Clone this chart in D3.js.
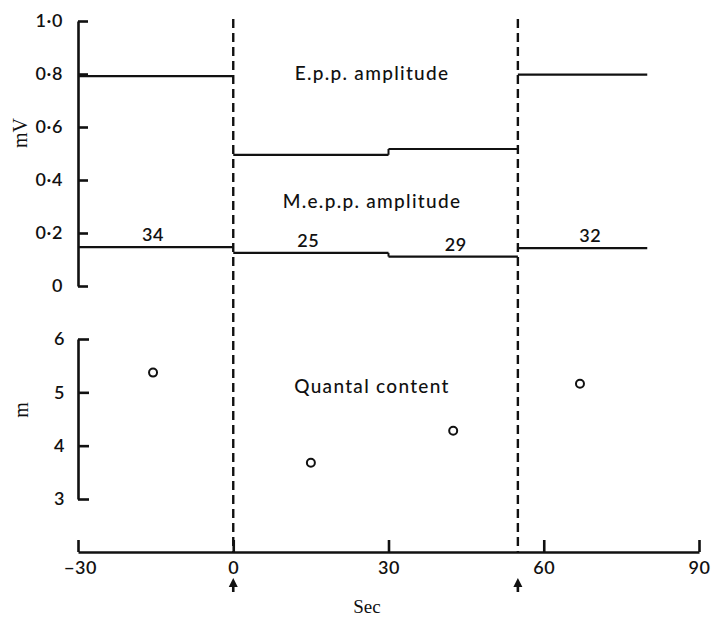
<!DOCTYPE html>
<html>
<head>
<meta charset="utf-8">
<script src="https://cdn.jsdelivr.net/npm/d3@7/dist/d3.min.js"></script>
<style>
  body { margin: 0; background: #fff; }
  svg { display: block; }
  .tick text { font-family: Lato, "Open Sans", sans-serif; font-size: 18px; font-weight: 600; letter-spacing: 0.6px; fill: #111; }
</style>
</head>
<body>
<svg id="chart" width="711" height="618"></svg>
<script>
// Time periods (s) over which each mean amplitude applies
const segStart = [-30, 0, 30, 55];
const segEnd   = [0, 30, 55, 80];
// Mean e.p.p. amplitude (mV) per period
const eppAmp   = [0.792, 0.495, 0.517, 0.798];
// Mean m.e.p.p. amplitude (mV) per period
const meppAmp  = [0.147, 0.125, 0.111, 0.143];
// Number of m.e.p.p.s averaged in each period
const meppN    = [34, 25, 29, 32];
// Quantal content estimates
const mTime    = [-15.5, 15, 42.5, 67];
const mValue   = [5.37, 3.68, 4.28, 5.16];
// Stimulus change markers (s)
const markers  = [0, 55];
// Tick values
const xTicks   = [-30, 0, 30, 60, 90];
const mvTicks  = [0, 0.2, 0.4, 0.6, 0.8, 1.0];
const mTicks   = [3, 4, 5, 6];

const svg = d3.select("#chart");
const ink = "#111";
const sans = "Lato, 'Open Sans', sans-serif";

const x = d3.scaleLinear().domain([-30, 90]).range([78, 699]);
const yMV = d3.scaleLinear().domain([0, 1.0]).range([286, 21]);
const yM = d3.scaleLinear().domain([3, 6]).range([499, 339]);

const fmtMV = d => d === 0 ? "0" : d3.format(".1f")(d).replace(".", "\u00b7");
const fmtX = d => d < 0 ? "\u2212" + Math.abs(d) : String(d);

function styleAxis(g) {
  g.select(".domain").attr("stroke", ink).attr("stroke-width", 2.6);
  g.selectAll(".tick line").attr("stroke", ink).attr("stroke-width", 2.6);
}

// Upper axis (mV)
svg.append("g")
  .attr("transform", `translate(${x(-30)},0)`)
  .call(d3.axisLeft(yMV).tickValues(mvTicks).tickFormat(fmtMV)
        .tickSizeInner(-10).tickSizeOuter(0).tickPadding(15))
  .call(styleAxis);

// Lower axis (quantal content m)
svg.append("g")
  .attr("transform", `translate(${x(-30)},0)`)
  .call(d3.axisLeft(yM).tickValues(mTicks).tickFormat(d3.format("d"))
        .tickSizeInner(-11).tickSizeOuter(0).tickPadding(13))
  .call(styleAxis);

// Time axis
const xAxisY = 552;
svg.append("g")
  .attr("transform", `translate(0,${xAxisY})`)
  .call(d3.axisBottom(x).tickValues(xTicks).tickFormat(fmtX)
        .tickSizeInner(-12).tickSizeOuter(0).tickPadding(9))
  .call(styleAxis)
  .call(g => g.selectAll(".tick text").attr("dx", d => d < 0 ? "2" : "0"));

// Dashed stimulus markers
svg.append("g").selectAll("line").data(markers).join("line")
  .attr("x1", d => x(d)).attr("x2", d => x(d))
  .attr("y1", 19).attr("y2", xAxisY)
  .attr("stroke", ink).attr("stroke-width", 2.4)
  .attr("stroke-dasharray", "9,5");

// Arrows under the time axis
const arrows = svg.append("g");
markers.forEach(t => {
  const cx = x(t);
  arrows.append("line")
    .attr("x1", cx).attr("x2", cx).attr("y1", 592).attr("y2", 584)
    .attr("stroke", ink).attr("stroke-width", 2.6);
  arrows.append("path")
    .attr("d", `M${cx - 4.5},${587} L${cx},${578} L${cx + 4.5},${587} Z`)
    .attr("fill", ink);
});

// Horizontal mean-amplitude segments
function drawSegments(values) {
  const g = svg.append("g");
  values.forEach((v, i) => {
    g.append("line")
      .attr("x1", x(segStart[i])).attr("x2", x(segEnd[i]))
      .attr("y1", yMV(v)).attr("y2", yMV(v))
      .attr("stroke", ink).attr("stroke-width", 2.2);
  });
  // short step where consecutive periods meet between the markers
  g.append("line")
    .attr("x1", x(30)).attr("x2", x(30))
    .attr("y1", yMV(values[1])).attr("y2", yMV(values[2]))
    .attr("stroke", ink).attr("stroke-width", 2);
}
drawSegments(eppAmp);
drawSegments(meppAmp);

// Sample counts above m.e.p.p. segments
const nPos = [-15.5, 14.5, 43, 69];
svg.append("g").selectAll("text").data(meppN).join("text")
  .attr("x", (d, i) => x(nPos[i]))
  .attr("y", (d, i) => yMV(meppAmp[i]) - 6)
  .attr("text-anchor", "middle")
  .attr("font-family", sans).attr("font-weight", 600)
  .attr("font-size", 18).attr("letter-spacing", 0.6).attr("fill", ink)
  .text(d => d);

// Quantal content points
svg.append("g").selectAll("circle").data(mValue).join("circle")
  .attr("cx", (d, i) => x(mTime[i]))
  .attr("cy", d => yM(d))
  .attr("r", 4)
  .attr("fill", "#fff").attr("stroke", ink).attr("stroke-width", 2);

// In-plot labels
const labels = [
  { text: "E.p.p. amplitude", x: 372, y: 80 },
  { text: "M.e.p.p. amplitude", x: 372, y: 208 },
  { text: "Quantal content", x: 372, y: 393 }
];
svg.append("g").selectAll("text").data(labels).join("text")
  .attr("x", d => d.x).attr("y", d => d.y)
  .attr("text-anchor", "middle")
  .attr("font-family", sans).attr("font-weight", 500)
  .attr("font-size", 19).attr("letter-spacing", 1.3).attr("fill", ink)
  .text(d => d.text);

// Axis titles
const serif = "'Liberation Serif', 'DejaVu Serif', serif";
svg.append("text")
  .attr("transform", "translate(27,133) rotate(-90)")
  .attr("text-anchor", "middle")
  .attr("font-family", serif).attr("font-size", 20).attr("fill", ink)
  .text("mV");
svg.append("text")
  .attr("transform", "translate(28,410) rotate(-90)")
  .attr("text-anchor", "middle")
  .attr("font-family", serif).attr("font-size", 20).attr("fill", ink)
  .text("m");
svg.append("text")
  .attr("x", 367).attr("y", 613)
  .attr("text-anchor", "middle")
  .attr("font-family", serif).attr("font-size", 19).attr("fill", ink)
  .text("Sec");
</script>
</body>
</html>
